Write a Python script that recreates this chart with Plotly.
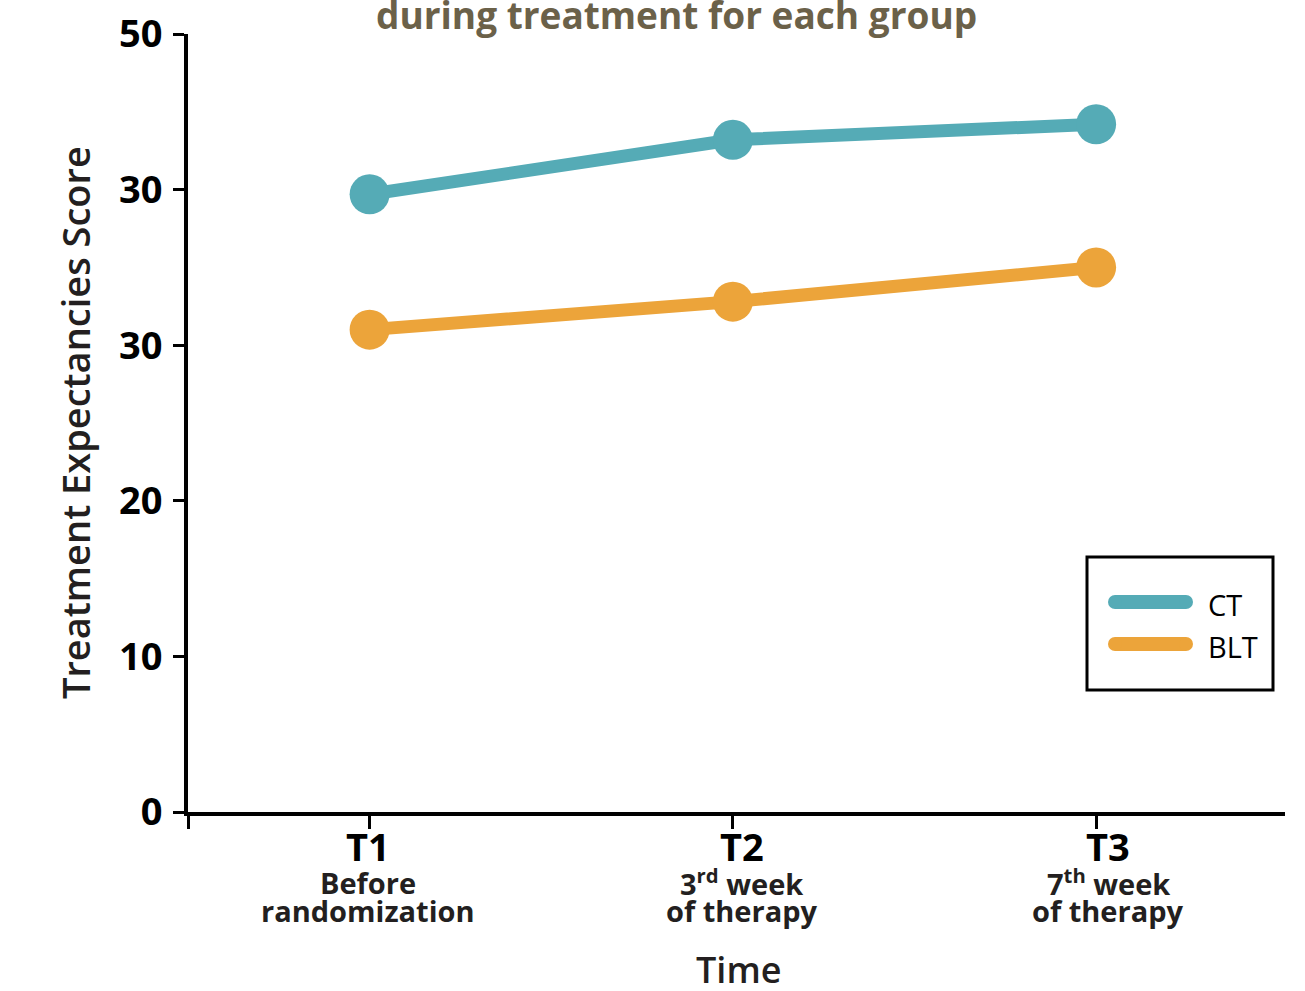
import plotly.graph_objects as go

# ---- data ----
categories = ["T1", "T2", "T3"]
desc_line1 = ["Before", "3<sup>rd</sup> week", "7<sup>th</sup> week"]
desc_line2 = ["randomization", "of therapy", "of therapy"]
ct_values = [39.7, 43.2, 44.2]
blt_values = [31.0, 32.8, 35.0]
series_names = ["CT", "BLT"]
series_colors = ["#55abb6", "#eca43a"]
ytick_vals = [0, 10, 20, 30, 40, 50]
ytick_text = ["0", "10", "20", "30", "30", "50"]
title_text = "during treatment for each group"
ytitle_text = "Treatment Expectancies Score"
xtitle_text = "Time"

W, H = 1305, 991
PL, PT, PR, PB = 188, 34, 1285, 812          # plot area in pixels
L, T, R, B = PL, PT, W - PR, H - PB
PW, PH = PR - PL, PB - PT


def px(x):
    return (x - PL) / PW


def py(y):
    return (PB - y) / PH


FONT = "Open Sans"
xs = list(range(len(categories)))
label_shift = [-2, 9, 12]

fig = go.Figure()
for name, vals, col in zip(series_names, [ct_values, blt_values], series_colors):
    fig.add_trace(go.Scatter(
        x=xs, y=vals, mode="lines+markers", name=name,
        line=dict(color=col, width=13),
        marker=dict(color=col, size=40, line=dict(width=0)),
        showlegend=False, cliponaxis=False,
    ))

fig.update_layout(
    width=W, height=H,
    margin=dict(l=L, r=R, t=T, b=B, autoexpand=False),
    plot_bgcolor="white", paper_bgcolor="white",
    font=dict(family=FONT, color="black"),
)

fig.update_xaxes(
    range=[-0.5, 2.52], showgrid=False, zeroline=False,
    showline=True, linecolor="black", linewidth=4,
    ticks="outside", ticklen=13, tickwidth=3, tickcolor="black",
    tickvals=[-0.5] + xs, ticktext=[""] * (len(xs) + 1),
)
fig.update_yaxes(
    range=[0, 50], showgrid=False, zeroline=False,
    showline=True, linecolor="black", linewidth=4,
    ticks="outside", ticklen=11, tickwidth=3, tickcolor="black",
    tickvals=ytick_vals, ticktext=[f"<b>{t}</b>" for t in ytick_text],
    tickfont=dict(family=FONT, size=38, color="black"),
    ticklabelstandoff=3, ticklabeloverflow="allow",
)

annotations = []
for i in range(len(categories)):
    annotations.append(dict(
        x=xs[i], xref="x", y=py(846), yref="paper", text=f"<b>{categories[i]}</b>",
        showarrow=False, xanchor="center", yanchor="middle", xshift=label_shift[i],
        font=dict(family=FONT, size=38, color="black"),
    ))
    annotations.append(dict(
        x=xs[i], xref="x", y=py(882), yref="paper", text=desc_line1[i],
        showarrow=False, xanchor="center", yanchor="middle", xshift=label_shift[i],
        font=dict(family=FONT, size=29, color="#231f20", weight=700),
    ))
    annotations.append(dict(
        x=xs[i], xref="x", y=py(910), yref="paper", text=desc_line2[i],
        showarrow=False, xanchor="center", yanchor="middle", xshift=label_shift[i],
        font=dict(family=FONT, size=29, color="#231f20", weight=700),
    ))
annotations.append(dict(
    x=px(676), xref="paper", y=py(15), yref="paper", text=f"<b>{title_text}</b>",
    showarrow=False, xanchor="center", yanchor="middle",
    font=dict(family=FONT, size=37, color="#6b6149"),
))
annotations.append(dict(
    x=px(75), xref="paper", y=py(423), yref="paper", text=ytitle_text,
    textangle=-90, showarrow=False, xanchor="center", yanchor="middle",
    font=dict(family=FONT, size=38, color="#231f20", weight=600),
))
annotations.append(dict(
    x=px(738), xref="paper", y=py(970), yref="paper", text=xtitle_text,
    showarrow=False, xanchor="center", yanchor="middle",
    font=dict(family=FONT, size=36, color="#231f20", weight=600),
))

# legend (drawn manually)
shapes = [dict(type="rect", xref="paper", yref="paper",
               x0=px(1087), x1=px(1273), y0=py(690), y1=py(557),
               line=dict(color="black", width=3), fillcolor="rgba(0,0,0,0)")]
leg_y = [602, 644]
for name, col, yy in zip(series_names, series_colors, leg_y):
    shapes.append(dict(type="line", xref="paper", yref="paper",
                       x0=px(1115), x1=px(1186), y0=py(yy), y1=py(yy),
                       line=dict(color=col, width=14)))
    for cx in (1115, 1186):
        shapes.append(dict(type="circle", xref="paper", yref="paper",
                           x0=px(cx - 7), x1=px(cx + 7), y0=py(yy + 7), y1=py(yy - 7),
                           fillcolor=col, line=dict(width=0)))
    annotations.append(dict(
        x=px(1206), xref="paper", y=py(yy + 2), yref="paper", text=name,
        showarrow=False, xanchor="left", yanchor="middle",
        font=dict(family=FONT, size=29, color="black"),
    ))

fig.update_layout(annotations=annotations, shapes=shapes)
fig.write_html("out.html", config={"displayModeBar": False},
               post_script="document.body.style.margin='0px';")
